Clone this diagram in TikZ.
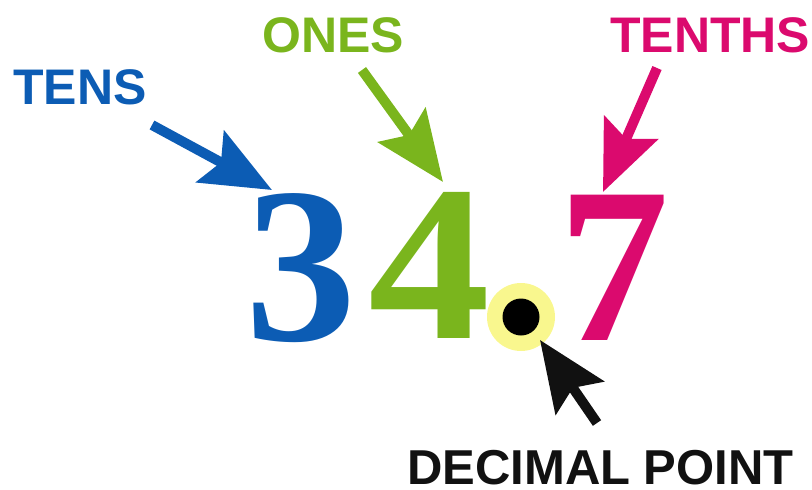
\documentclass[tikz,border=0pt]{standalone}
\usepackage{fontspec}
\setmainfont{Liberation Sans}
\newfontfamily\numfont{Liberation Serif}
\usetikzlibrary{arrows.meta}

\definecolor{tensblue}{RGB}{12,92,180}
\definecolor{onesgreen}{RGB}{122,181,29}
\definecolor{tenthspink}{RGB}{219,10,110}
\definecolor{pointyellow}{RGB}{249,247,142}
\definecolor{pointblack}{RGB}{17,17,17}

\tikzset{
	word/.style={inner sep=0pt,anchor=base west,font=\fontsize{50}{60}\selectfont\bfseries},
	numeral/.style={inner sep=0pt,anchor=base,font=\fontsize{222}{260}\selectfont\numfont\bfseries},
	pointer/.style={line width=10pt,-{Stealth[length=70pt,width=58pt,inset=12pt]}}
}

\begin{document}
\begin{tikzpicture}[x=1pt,y=-1pt]
	\useasboundingbox (0,0) rectangle (812,490);

	\node[word,text=tensblue] (tens) at (13,104) {TENS};
	\node[word,text=onesgreen] (ones) at (262,52) {ONES};
	\node[word,text=tenthspink] (tenths) at (610,52) {TENTHS};
	\node[word,text=pointblack,font=\fontsize{49}{60}\selectfont\bfseries] (decimal) at (407,484) {DECIMAL POINT};

	\node[numeral,text=tensblue] (d3) at (301,340) {3};
	\node[numeral,text=onesgreen,xscale=1.1] (d4) at (430,338) {4};
	\node[numeral,text=tenthspink] (d7) at (614,340) {7};
	\node[shape=circle,fill=pointyellow,minimum size=68pt,inner sep=0pt] (ring) at (521,317) {};
	\node[shape=circle,fill=black,minimum size=37pt,inner sep=0pt] (dot) at (ring) {};

	\coordinate (tens-tail) at (152,125);
	\coordinate (tens-tip) at (272,190);
	\coordinate (ones-tail) at (362,70);
	\coordinate (ones-tip) at (443,182);
	\coordinate (tenths-tail) at (657,68);
	\coordinate (tenths-tip) at (603,192);
	\coordinate (point-tail) at (597,423);
	\coordinate (point-tip) at (540,340);

	\draw[pointer,tensblue] (tens-tail) -- (tens-tip);
	\draw[pointer,onesgreen] (ones-tail) -- (ones-tip);
	\draw[pointer,tenthspink] (tenths-tail) -- (tenths-tip);
	\draw[pointer,pointblack] (point-tail) -- (point-tip);
\end{tikzpicture}
\end{document}
